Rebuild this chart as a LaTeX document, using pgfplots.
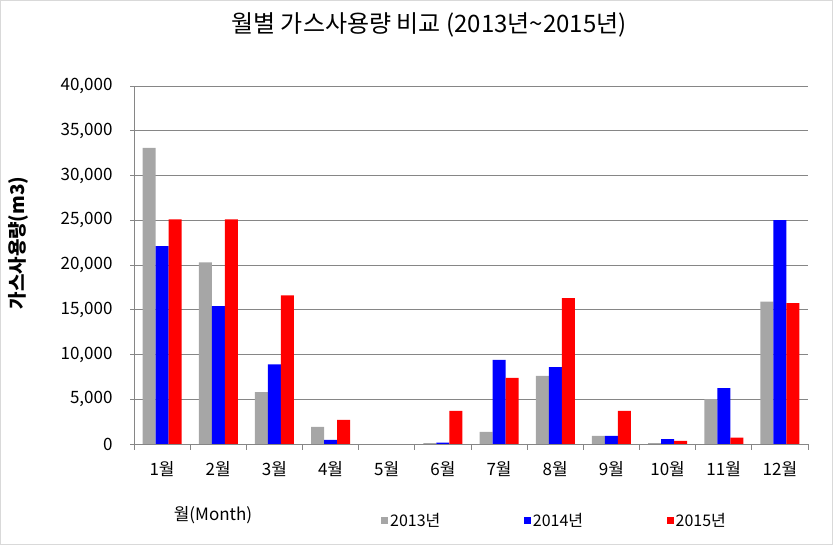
\documentclass[border=0pt]{standalone}
\usepackage{pgfplots}
\pgfplotsset{compat=1.18}
\usepackage{fontspec}
\setmainfont{Noto Sans CJK KR}
\definecolor{c13}{RGB}{166,166,166}
\definecolor{c14}{RGB}{0,0,255}
\definecolor{c15}{RGB}{255,0,0}
\definecolor{gridc}{RGB}{134,134,134}
\definecolor{framec}{RGB}{217,217,217}
\begin{document}
\begin{tikzpicture}[x=1pt,y=1pt]
\useasboundingbox (0,0) rectangle (833,545);
\draw[line width=1pt, framec] (0.5,0.5) rectangle (832.5,544.5);
\node[font=\fontsize{24}{28}\selectfont] at (429,520) {월별 가스사용량 비교 (2013년\textasciitilde 2015년)};
\node[rotate=90, font=\fontsize{19}{22}\selectfont\bfseries] at (18,302) {가스사용량(m3)};
\node[font=\fontsize{17}{20}\selectfont] at (213,30) {월(Month)};
\begin{axis}[
  at={(134pt,101pt)}, anchor=south west, scale only axis,
  width=674pt, height=358pt,
  ybar=0pt, bar width=13pt,
  xmin=-0.5, xmax=11.5, ymin=0, ymax=40000,
  axis x line*=bottom, axis y line*=left,
  axis line style={gridc, line width=0.8pt},
  xtick={0,...,11},
  xticklabels={1월,2월,3월,4월,5월,6월,7월,8월,9월,10월,11월,12월},
  major x tick style={draw=none},
  minor xtick={-0.5,0.5,...,11.5},
  minor tick length=6pt,
  minor x tick style={gridc, line width=0.8pt},
  tick align=outside,
  ytick={0,5000,...,40000},
  major tick length=4pt,
  major y tick style={gridc, line width=0.8pt},
  ymajorgrids, grid style={gridc, line width=0.8pt},
  scaled y ticks=false,
  /pgf/number format/.cd, 1000 sep={,}, assume math mode=true,
  /pgfplots/.cd,
  yticklabel style={font=\fontsize{17}{20}\selectfont, xshift=-14pt},
  xticklabel style={font=\fontsize{17}{20}\selectfont, yshift=-10pt},
  legend columns=3,
  legend style={at={(0.3665,-0.213)}, anchor=west, draw=none, inner sep=0pt,
    font=\fontsize{16}{19}\selectfont,
    /tikz/every even column/.append style={column sep=81.5pt}},
  legend image code/.code={\fill[#1] (0pt,-3.5pt) rectangle (7pt,3.5pt);},
]
\addplot[fill=c13, draw=none] coordinates {(0,33100) (1,20300) (2,5800) (3,1900) (5,100) (6,1350) (7,7600) (8,900) (9,100) (10,5000) (11,15900)};
\addplot[fill=c14, draw=none] coordinates {(0,22100) (1,15400) (2,8900) (3,450) (5,150) (6,9400) (7,8600) (8,900) (9,550) (10,6250) (11,25000)};
\addplot[fill=c15, draw=none] coordinates {(0,25100) (1,25100) (2,16600) (3,2700) (5,3700) (6,7400) (7,16300) (8,3700) (9,350) (10,700) (11,15750)};
\legend{2013년,2014년,2015년}
\end{axis}
\end{tikzpicture}
\end{document}
